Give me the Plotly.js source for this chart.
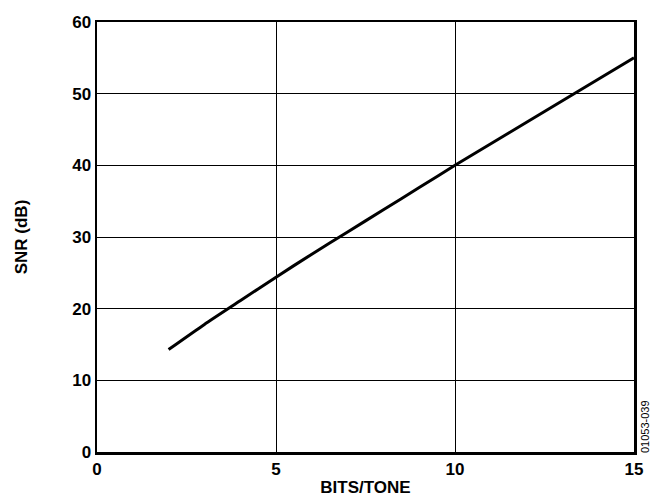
<!DOCTYPE html>
<html>
<head>
<meta charset="utf-8">
<script src="https://cdn.plot.ly/plotly-3.0.1.min.js"></script>
<style>html,body{margin:0;padding:0;background:#fff;}#chart{width:652px;height:497px;}</style>
</head>
<body>
<div id="chart"></div>
<script>
const bitsPerTone = [2, 3, 4, 5, 6, 7, 8, 9, 10, 11, 12, 13, 14, 15];
const snrDb = [14.3, 17.8, 21.1, 24.4, 27.6, 30.7, 33.8, 36.9, 40.0, 43.0, 46.0, 49.0, 52.0, 55.0];
const xTicks = [0, 5, 10, 15];
const yTicks = [0, 10, 20, 30, 40, 50, 60];
const xLabel = 'BITS/TONE';
const yLabel = 'SNR (dB)';
const figId = '01053-039';

const font = 'Liberation Sans, Arial, Helvetica, sans-serif';

const trace = {
  x: bitsPerTone, y: snrDb, type: 'scatter', mode: 'lines',
  line: {color: '#000', width: 3, shape: 'spline', smoothing: 0.6}, hoverinfo: 'skip', showlegend: false
};

const layout = {
  width: 652, height: 497,
  margin: {l: 97, r: 18, t: 22, b: 45},
  paper_bgcolor: '#fff', plot_bgcolor: '#fff',
  font: {family: font, color: '#000'},
  xaxis: {
    range: [0, 15], tickvals: xTicks, ticktext: xTicks.map(String),
    showgrid: true, gridcolor: '#000', gridwidth: 1,
    zeroline: false, showline: true, linecolor: '#000', linewidth: 2.5, mirror: true,
    ticks: '', tickfont: {size: 17, family: font, weight: 'bold'},
    title: {text: '<b>' + xLabel + '</b>', font: {size: 17, family: font}, standoff: 6}
  },
  yaxis: {
    range: [0, 60], tickvals: yTicks, ticktext: yTicks.map(String),
    showgrid: true, gridcolor: '#000', gridwidth: 1,
    zeroline: false, showline: true, linecolor: '#000', linewidth: 2.5, mirror: true,
    ticks: '', tickfont: {size: 17, family: font, weight: 'bold'},
    title: {text: '<b>' + yLabel + '</b>', font: {size: 17, family: font}, standoff: 40}
  },
  annotations: [{
    text: figId, xref: 'paper', yref: 'paper', x: 1, y: 0,
    xanchor: 'center', yanchor: 'middle', xshift: 11, yshift: 25,
    borderpad: 0,
    textangle: -90, showarrow: false, font: {size: 11, family: font, color: '#000'}
  }]
};

Plotly.newPlot('chart', [trace], layout, {displayModeBar: false, staticPlot: true});
</script>
</body>
</html>
